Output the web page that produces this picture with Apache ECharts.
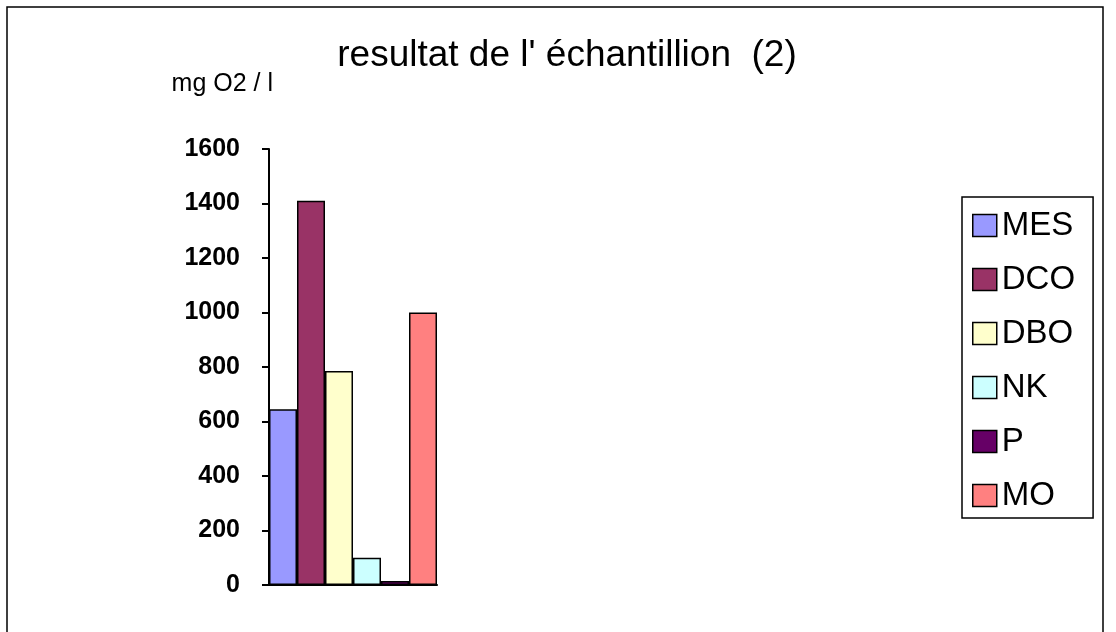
<!DOCTYPE html>
<html>
<head>
<meta charset="utf-8">
<script src="https://cdn.jsdelivr.net/npm/echarts@6/dist/echarts.min.js"></script>
<style>
  html, body { margin: 0; padding: 0; background: #fff; }
  #chart { width: 1116px; height: 632px; }
</style>
</head>
<body>
<div id="chart"></div>
<script>
// données de l'échantillion (2)
const categories = [''];
const seriesNames = ['MES', 'DCO', 'DBO', 'NK', 'P', 'MO'];
const seriesValues = [645, 1410, 785, 100, 15, 1000];
const seriesColors = ['#9999FF', '#993366', '#FFFFCC', '#CCFFFF', '#660066', '#FF8080'];
const yMin = 0, yMax = 1600, yStep = 200;

const chart = echarts.init(document.getElementById('chart'));

const option = {
  backgroundColor: '#fff',
  animation: false,
  title: {
    text: "resultat de l' échantillion  (2)",
    left: 562,
    textAlign: 'center',
    top: 32,
    textStyle: {
      fontFamily: 'Liberation Sans, Arial, sans-serif',
      fontSize: 37,
      fontWeight: 'normal',
      color: '#000'
    }
  },
  graphic: [{
    type: 'rect',
    shape: { x: 7, y: 7, width: 1096, height: 700 },
    style: { fill: 'none', stroke: '#000', lineWidth: 1.5 },
    silent: true
  }],
  legend: {
    orient: 'vertical',
    left: 962,
    top: 197,
    padding: [12, 18, 6, 10],
    itemGap: 21,
    itemWidth: 24,
    itemHeight: 22,
    itemTextGap: 17,
    borderColor: '#000',
    borderWidth: 1.5,
    icon: 'rect',
    itemStyle: { borderColor: '#000', borderWidth: 1.5 },
    textStyle: {
      fontFamily: 'Liberation Sans, Arial, sans-serif',
      fontSize: 33,
      lineHeight: 33,
      color: '#000'
    },
    data: seriesNames
  },
  grid: {
    left: 269,
    top: 149,
    width: 168,
    height: 436
  },
  xAxis: {
    type: 'category',
    data: categories,
    axisLine: { lineStyle: { color: '#000', width: 2 } },
    axisTick: { show: false },
    axisLabel: { show: false }
  },
  yAxis: {
    type: 'value',
    min: yMin,
    max: yMax,
    interval: yStep,
    name: 'mg O2 / l',
    nameLocation: 'end',
    nameGap: 52,
    nameTextStyle: {
      fontFamily: 'Liberation Sans, Arial, sans-serif',
      fontSize: 25,
      color: '#000',
      align: 'right',
      padding: [0, -4, 0, 0]
    },
    axisLine: { show: true, lineStyle: { color: '#000', width: 2 } },
    axisTick: { show: true, length: 7, lineStyle: { color: '#000', width: 2 } },
    axisLabel: {
      margin: 29,
      fontFamily: 'Liberation Sans, Arial, sans-serif',
      fontSize: 25,
      fontWeight: 'bold',
      color: '#000',
      formatter: v => String(v)
    },
    splitLine: { show: false }
  },
  series: seriesNames.map((name, i) => ({
    name: name,
    type: 'bar',
    barGap: '0%',
    barCategoryGap: '0%',
    data: [seriesValues[i]],
    itemStyle: {
      color: seriesColors[i],
      borderColor: '#000',
      borderWidth: 1.5
    }
  }))
};

chart.setOption(option);
</script>
</body>
</html>
